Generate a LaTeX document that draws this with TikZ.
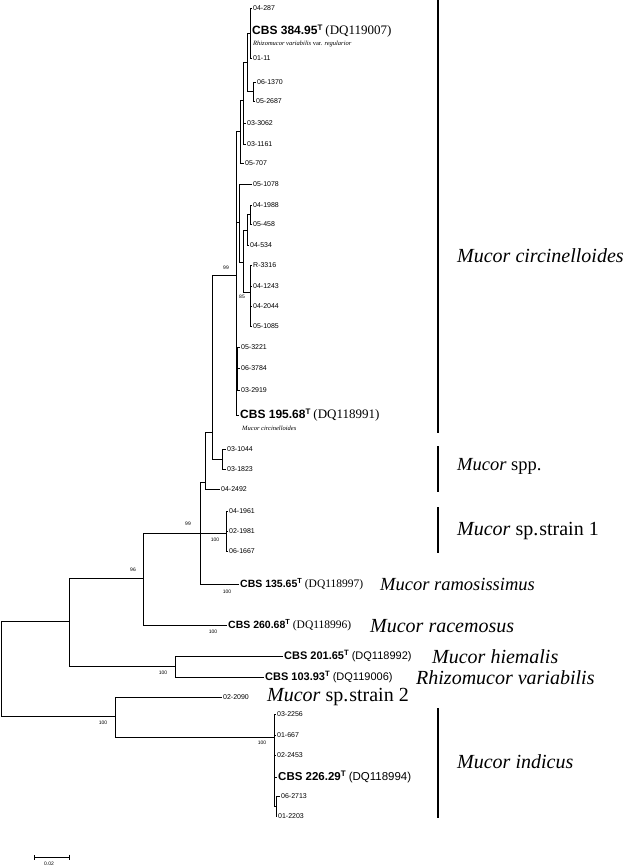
\documentclass[tikz,border=0pt]{standalone}
\usepackage{fontspec}
\setmainfont{Liberation Serif}
\setsansfont{Liberation Sans}
\usetikzlibrary{arrows.meta}
\newcommand\cbsLabel[4]{{\sffamily\bfseries\fontsize{#1}{12}\selectfont CBS #3\textsuperscript{T}}\ {\fontsize{#2}{12}\selectfont(#4)}}
\newcommand\cbsLabelS[3]{{\sffamily\bfseries\fontsize{#1}{12}\selectfont CBS #2\textsuperscript{T}}\ {\sffamily\fontsize{#1}{12}\selectfont(#3)}}
\begin{document}
\begin{tikzpicture}[x=1pt,y=-1pt,
  br/.style={line width=0.7pt},
  leaf/.style={anchor=west,inner sep=1pt,font=\sffamily\fontsize{7}{8}\selectfont},
  cbs/.style={anchor=west,inner sep=1pt},
  subl/.style={anchor=west,inner sep=0pt,font=\fontsize{6.5}{7}\selectfont\itshape},
  supp/.style={inner sep=0pt,font=\sffamily\fontsize{5}{6}\selectfont},
  spname/.style={anchor=west,inner sep=0pt,font=\fontsize{20}{22}\selectfont},
  bar/.style={line width=2.2pt},
]
\useasboundingbox (0,0) rectangle (631,867);
% internal nodes
\coordinate (Na) at (250,33);
\coordinate (Nb) at (253,91);
\coordinate (Nc) at (247,62);
\coordinate (Nd) at (243,100);
\coordinate (Ne) at (240,131);
\coordinate (Ng) at (250,214);
\coordinate (Nh) at (247,230);
\coordinate (Ni) at (250,292);
\coordinate (Nj) at (243,262);
\coordinate (Nk) at (239,222);
\coordinate (Nl) at (237,370);
\coordinate (Ncirc) at (236,275);
\coordinate (Nm) at (222,459);
\coordinate (P) at (212,432);
\coordinate (Q) at (205,482);
\coordinate (R) at (200,533);
\coordinate (Ns) at (226,533);
\coordinate (N143) at (143,578);
\coordinate (N69) at (69,621);
\coordinate (Nhiem) at (175,666);
\coordinate (root) at (1,668);
\coordinate (Nind) at (115,716);
\coordinate (Nind2) at (274,737);
\coordinate (Nind3) at (276,806);
% leaves
\node[leaf] (l01) at (252,8) {04-287};
\node[cbs] (cbs384) at (251,31) {\cbsLabel{12}{13}{384.95}{DQ119007}};
\node[subl] (sub384) at (253,44) {Rhizomucor variabilis \textup{var.} regularior};
\node[leaf] (l02) at (252,58) {01-11};
\node[leaf] (l03) at (256,82) {06-1370};
\node[leaf] (l04) at (255,101) {05-2687};
\node[leaf] (l05) at (246,123) {03-3062};
\node[leaf] (l06) at (246,144) {03-1161};
\node[leaf] (l07) at (244,163) {05-707};
\node[leaf] (l08) at (252,184) {05-1078};
\node[leaf] (l09) at (252,205) {04-1988};
\node[leaf] (l10) at (252,224) {05-458};
\node[leaf] (l11) at (249,245) {04-534};
\node[leaf] (l12) at (252,265) {R-3316};
\node[leaf] (l13) at (252,286) {04-1243};
\node[leaf] (l14) at (252,306) {04-2044};
\node[leaf] (l15) at (252,326) {05-1085};
\node[leaf] (l16) at (240,347) {05-3221};
\node[leaf] (l17) at (240,368) {06-3784};
\node[leaf] (l18) at (240,390) {03-2919};
\node[cbs] (cbs195) at (239,415) {\cbsLabel{12}{13}{195.68}{DQ118991}};
\node[subl] (sub195) at (242,428) {Mucor circinelloides};
\node[leaf] (l19) at (226,449) {03-1044};
\node[leaf] (l20) at (226,469) {03-1823};
\node[leaf] (l21) at (220,489) {04-2492};
\node[leaf] (l22) at (228,511) {04-1961};
\node[leaf] (l23) at (228,531) {02-1981};
\node[leaf] (l24) at (228,551) {06-1667};
\node[cbs] (cbs135) at (239,584) {\cbsLabel{10.5}{11.5}{135.65}{DQ118997}};
\node[cbs] (cbs260) at (227,625) {\cbsLabel{10.5}{11.5}{260.68}{DQ118996}};
\node[cbs] (cbs201) at (283,656) {\cbsLabelS{11}{201.65}{DQ118992}};
\node[cbs] (cbs103) at (264,677) {\cbsLabelS{11}{103.93}{DQ119006}};
\node[leaf] (l25) at (222,697) {02-2090};
\node[leaf] (l26) at (276,714) {03-2256};
\node[leaf] (l27) at (276,735) {01-667};
\node[leaf] (l28) at (276,755) {02-2453};
\node[cbs] (cbs226) at (277,777) {\cbsLabelS{11.5}{226.29}{DQ118994}};
\node[leaf] (l29) at (280,796) {06-2713};
\node[leaf] (l30) at (277,816) {01-2203};
% branches
\draw[br] (Na) |- (l01.west); \draw[br] (Na) |- (cbs384.west); \draw[br] (Na) |- (l02.west);
\draw[br] (Nb) |- (l03.west); \draw[br] (Nb) |- (l04.west);
\draw[br] (Nc) |- (Na); \draw[br] (Nc) |- (Nb);
\draw[br] (Nd) |- (Nc); \draw[br] (Nd) |- (l05.west); \draw[br] (Nd) |- (l06.west);
\draw[br] (Ne) |- (Nd); \draw[br] (Ne) |- (l07.west);
\draw[br] (Ng) |- (l09.west); \draw[br] (Ng) |- (l10.west);
\draw[br] (Nh) |- (Ng); \draw[br] (Nh) |- (l11.west);
\draw[br] (Ni) |- (l12.west); \draw[br] (Ni) |- (l13.west); \draw[br] (Ni) |- (l14.west); \draw[br] (Ni) |- (l15.west);
\draw[br] (Nj) |- (Nh); \draw[br] (Nj) |- (Ni);
\draw[br] (Nk) |- (l08.west); \draw[br] (Nk) |- (Nj);
\draw[br] (Nl) |- (l16.west); \draw[br] (Nl) |- (l17.west); \draw[br] (Nl) |- (l18.west);
\draw[br] (Ncirc) |- (Ne); \draw[br] (Ncirc) |- (Nk); \draw[br] (Ncirc) |- (Nl); \draw[br] (Ncirc) |- (cbs195.west);
\draw[br] (Nm) |- (l19.west); \draw[br] (Nm) |- (l20.west);
\draw[br] (P) |- (Ncirc); \draw[br] (P) |- (Nm);
\draw[br] (Q) |- (P); \draw[br] (Q) |- (l21.west);
\draw[br] (Ns) |- (l22.west); \draw[br] (Ns) |- (l23.west); \draw[br] (Ns) |- (l24.west);
\draw[br] (R) |- (Q); \draw[br] (R) -- (Ns); \draw[br] (R) |- (cbs135.west);
\draw[br] (N143) |- (R); \draw[br] (N143) |- (cbs260.west);
\draw[br] (Nhiem) |- (cbs201.west); \draw[br] (Nhiem) |- (cbs103.west);
\draw[br] (N69) |- (N143); \draw[br] (N69) |- (Nhiem);
\draw[br] (Nind3) |- (l29.west); \draw[br] (Nind3) |- (l30.west);
\draw[br] (Nind2) |- (l26.west); \draw[br] (Nind2) |- (l27.west); \draw[br] (Nind2) |- (l28.west); \draw[br] (Nind2) |- (cbs226.west); \draw[br] (Nind2) |- (Nind3);
\draw[br] (Nind) |- (l25.west); \draw[br] (Nind) |- (Nind2);
\draw[br] (root) |- (N69); \draw[br] (root) |- (Nind);
% support values
\node[supp] (s1) at (226,268) {99};
\node[supp] (s2) at (242,297) {85};
\node[supp] (s3) at (188,524) {99};
\node[supp] (s4) at (215,540) {100};
\node[supp] (s5) at (133,570) {96};
\node[supp] (s6) at (227,592) {100};
\node[supp] (s7) at (213,632) {100};
\node[supp] (s8) at (163,673) {100};
\node[supp] (s9) at (103,723) {100};
\node[supp] (s10) at (262,743) {100};
% species bars and names
\coordinate (b1t) at (438,0); \coordinate (b1b) at (438,433);
\coordinate (b2t) at (438,446); \coordinate (b2b) at (438,492);
\coordinate (b3t) at (438,507); \coordinate (b3b) at (438,553);
\coordinate (b4t) at (438,708); \coordinate (b4b) at (438,818);
\draw[bar] (b1t) -- (b1b);
\draw[bar] (b2t) -- (b2b);
\draw[bar] (b3t) -- (b3b);
\draw[bar] (b4t) -- (b4b);
\node[spname] (n1) at (457,256) {\textit{Mucor circinelloides}};
\node[spname,font=\fontsize{18.5}{20}\selectfont] (n2) at (457,466) {\textit{Mucor} spp.};
\node[spname] (n3) at (457,531) {\textit{Mucor} sp.\kern1pt strain 1};
\node[spname,font=\fontsize{18.5}{20}\selectfont] (n4) at (380,584) {\textit{Mucor ramosissimus}};
\node[spname] (n5) at (370,626) {\textit{Mucor racemosus}};
\node[spname] (n6) at (432,657) {\textit{Mucor hiemalis}};
\node[spname] (n7) at (416,678) {\textit{Rhizomucor variabilis}};
\node[spname] (n8) at (267,697) {\textit{Mucor} sp.\kern1pt strain 2};
\node[spname] (n9) at (457,762) {\textit{Mucor indicus}};
% scale bar
\coordinate (sbL) at (34,857); \coordinate (sbR) at (70,857);
\draw[line width=0.6pt,{Bar[width=5pt]}-{Bar[width=5pt]}] (sbL) -- (sbR);
\node[supp] (sbt) at (49,864) {0.02};
\end{tikzpicture}
\end{document}
